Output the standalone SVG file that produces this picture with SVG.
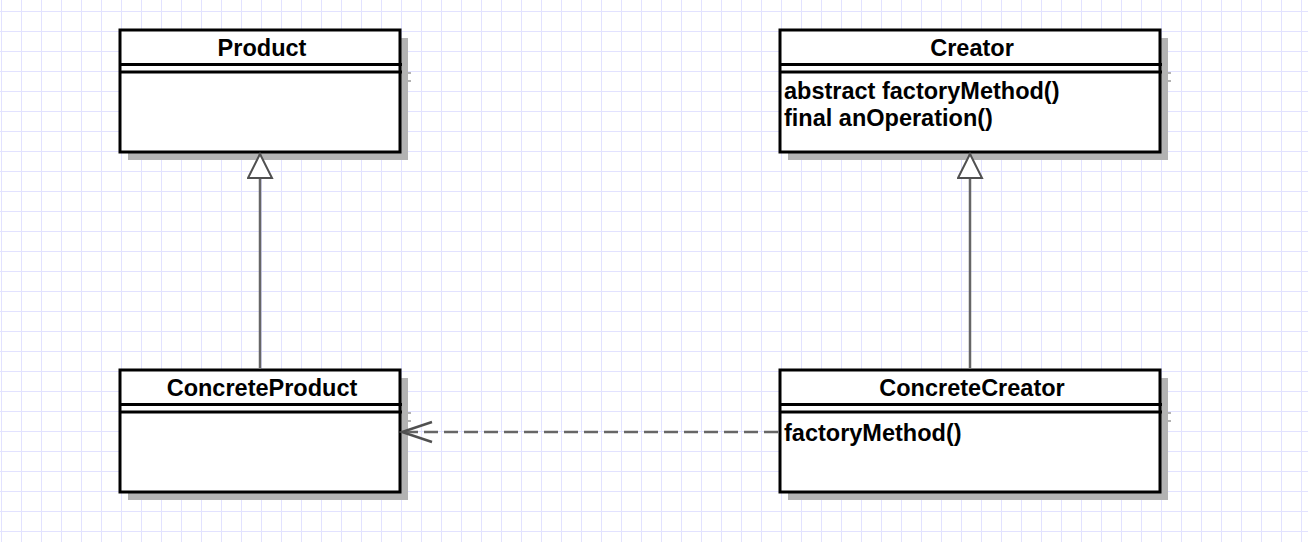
<svg xmlns="http://www.w3.org/2000/svg" width="1308" height="542" viewBox="0 0 1308 542">
<defs>
<pattern id="grid" x="1" y="11" width="20" height="20" patternUnits="userSpaceOnUse">
<path d="M0 0 H20 M0 0 V20" fill="none" stroke="#e2e2ff" stroke-width="2"/>
</pattern>
<marker id="tri" markerWidth="30" markerHeight="30" refX="25" refY="13" orient="auto" markerUnits="userSpaceOnUse">
<path d="M25 13 L1 1 L1 25 Z" fill="#ffffff" stroke="#505050" stroke-width="2"/>
</marker>
<marker id="open" markerWidth="36" markerHeight="30" refX="32" refY="12" orient="auto" markerUnits="userSpaceOnUse">
<path d="M2 2 L32 12 L2 22" fill="none" stroke="#505050" stroke-width="2.5"/>
</marker>
</defs>
<style>
.shadow{fill:#b3b3b3}
.box{fill:#ffffff;stroke:#000000;stroke-width:3}
.div{stroke:#000000;stroke-width:3}
.sdiv{stroke:#b3b3b3;stroke-width:2}
.title{font-family:"Liberation Sans",Arial,sans-serif;font-weight:bold;font-size:23.5px;text-anchor:middle;fill:#000}
.op{font-family:"Liberation Sans",Arial,sans-serif;font-weight:bold;font-size:23.5px;fill:#000}
.edge{fill:none;stroke:#666666;stroke-width:2.5}
</style>
<rect width="1308" height="542" fill="#ffffff"/>
<rect width="1308" height="542" fill="url(#grid)"/>

<g id="Product">
<rect class="shadow" x="128" y="38" width="280" height="122"/>
<line class="sdiv" x1="400" y1="73" x2="411" y2="73"/>
<line class="sdiv" x1="400" y1="81" x2="411" y2="81"/>
<rect class="box" x="120" y="30" width="280" height="122"/>
<line class="div" x1="120" y1="64.5" x2="402" y2="64.5"/>
<line class="div" x1="120" y1="72" x2="402" y2="72"/>
<text class="title" x="262" y="56">Product</text>
</g>

<g id="Creator">
<rect class="shadow" x="788" y="38" width="380" height="122"/>
<line class="sdiv" x1="1160" y1="73" x2="1171" y2="73"/>
<line class="sdiv" x1="1160" y1="81" x2="1171" y2="81"/>
<rect class="box" x="780" y="30" width="380" height="122"/>
<line class="div" x1="780" y1="64.5" x2="1162" y2="64.5"/>
<line class="div" x1="780" y1="72" x2="1162" y2="72"/>
<text class="title" x="972" y="56">Creator</text>
<text class="op" x="784" y="99">abstract factoryMethod()</text>
<text class="op" x="784" y="126">final anOperation()</text>
</g>

<g id="ConcreteProduct">
<rect class="shadow" x="128" y="378" width="280" height="122"/>
<line class="sdiv" x1="400" y1="413" x2="411" y2="413"/>
<line class="sdiv" x1="400" y1="421" x2="411" y2="421"/>
<rect class="box" x="120" y="370" width="280" height="122"/>
<line class="div" x1="120" y1="404.5" x2="402" y2="404.5"/>
<line class="div" x1="120" y1="412" x2="402" y2="412"/>
<text class="title" x="262" y="396">ConcreteProduct</text>
</g>

<g id="ConcreteCreator">
<rect class="shadow" x="788" y="378" width="380" height="122"/>
<line class="sdiv" x1="1160" y1="413" x2="1171" y2="413"/>
<line class="sdiv" x1="1160" y1="421" x2="1171" y2="421"/>
<rect class="box" x="780" y="370" width="380" height="122"/>
<line class="div" x1="780" y1="404.5" x2="1162" y2="404.5"/>
<line class="div" x1="780" y1="412" x2="1162" y2="412"/>
<text class="title" x="972" y="396">ConcreteCreator</text>
<text class="op" x="784" y="441">factoryMethod()</text>
</g>

<g id="connectors">
<line class="edge" x1="260" y1="368" x2="260" y2="154" marker-end="url(#tri)"/>
<line class="edge" x1="970" y1="368" x2="970" y2="154" marker-end="url(#tri)"/>
<line class="edge" x1="778" y1="432" x2="402" y2="432" stroke-dasharray="14 6" marker-end="url(#open)"/>
</g>
</svg>
